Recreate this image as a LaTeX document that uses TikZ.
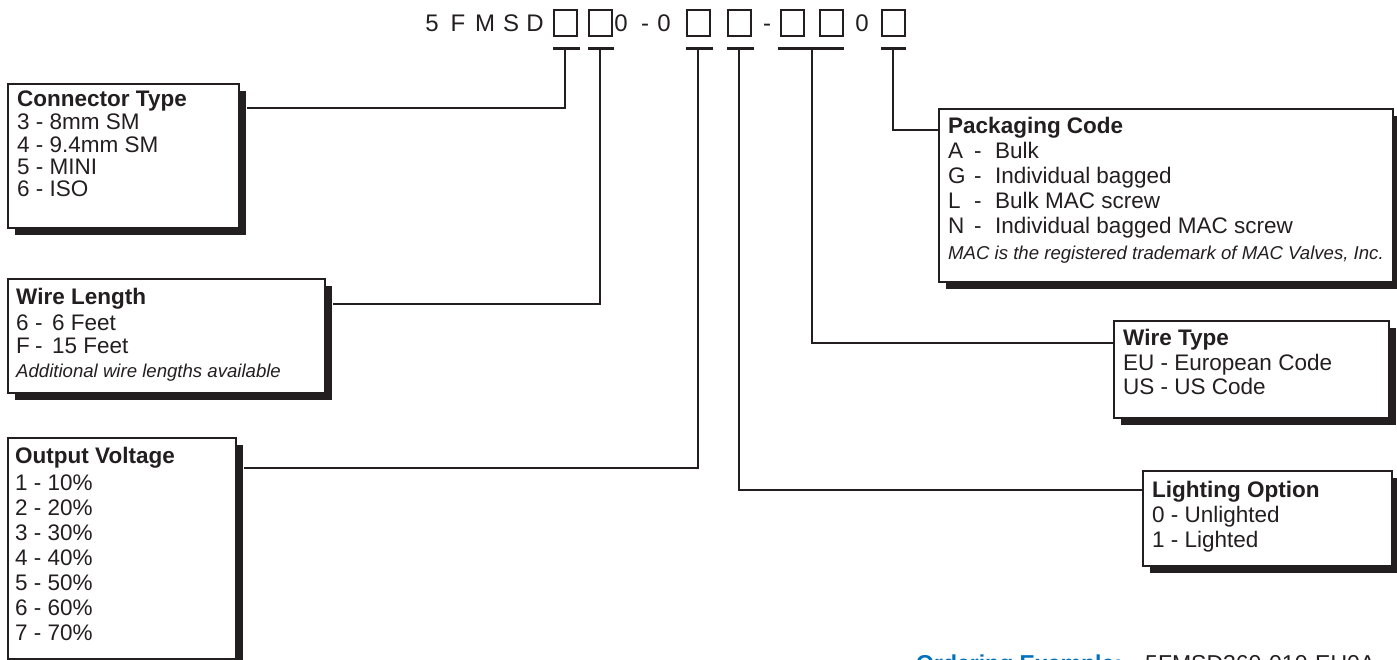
\documentclass[tikz,border=0pt]{standalone}
\usepackage{fontspec}
\setmainfont{Liberation Sans}
\usetikzlibrary{shadows}
\definecolor{ink}{RGB}{35,31,32}
\definecolor{oblue}{RGB}{0,114,188}
\begin{document}
\begin{tikzpicture}[x=1pt,y=-1pt,
  box/.style={draw=ink, line width=1.6pt, fill=white, anchor=north west, inner sep=0pt,
    drop shadow={fill=ink, opacity=1, shadow xshift=7pt, shadow yshift=-7pt}},
  slot/.style={draw=ink, line width=1.6pt, anchor=north west, inner sep=0pt, minimum width=23, minimum height=26},
  conn/.style={draw=ink, line width=2pt},
  tbar/.style={draw=ink, line width=2.6pt},
  ttl/.style={anchor=base west, inner sep=0pt, font=\fontsize{22.5}{24}\selectfont\bfseries, text=ink},
  txt/.style={anchor=base west, inner sep=0pt, font=\fontsize{22.5}{24}\selectfont, text=ink},
  note/.style={anchor=base west, inner sep=0pt, font=\fontsize{18.6}{20}\selectfont\itshape, text=ink},
  hdr/.style={anchor=base, inner sep=0pt, font=\fontsize{24}{26}\selectfont, text=ink}
]
\useasboundingbox (0,0) rectangle (1397,660);
\fill[white] (0,0) rectangle (1397,660);

% header characters
\foreach \c/\x [count=\i] in {5/432,F/458,M/485,S/511,D/535,0/621,-/645,0/664,-/767,0/862}
  \node[hdr] (h\i) at (\x,32) {\c};

% header slots
\node[slot] (b1) at (553,9) {};
\node[slot] (b2) at (588,9) {};
\node[slot] (b3) at (686,9) {};
\node[slot] (b4) at (727,9) {};
\node[slot] (b5) at (780,9) {};
\node[slot] (b6) at (819,9) {};
\node[slot] (b7) at (881,9) {};

% T-bar tops
\coordinate (t1) at ([yshift=-12pt]b1.south);
\coordinate (t2) at ([yshift=-12pt]b2.south);
\coordinate (t3) at ([yshift=-12pt]b3.south);
\coordinate (t4) at ([yshift=-12pt]b4.south);
\coordinate (t5) at (812,47);
\coordinate (t7) at ([yshift=-12pt]b7.south);
\draw[tbar] ([yshift=-12pt]b1.south west) -- ([yshift=-12pt,xshift=2pt]b1.south east);
\draw[tbar] ([yshift=-12pt]b2.south west) -- ([yshift=-12pt,xshift=1pt]b2.south east);
\draw[tbar] ([yshift=-12pt]b3.south west) -- ([yshift=-12pt,xshift=2pt]b3.south east);
\draw[tbar] ([yshift=-12pt]b4.south west) -- ([yshift=-12pt,xshift=2pt]b4.south east);
\draw[tbar] ([yshift=-12pt,xshift=-2pt]b5.south west) -- ([yshift=-12pt]b6.south east);
\draw[tbar] ([yshift=-12pt]b7.south west) -- ([yshift=-12pt]b7.south east);

% boxes
\node[box, minimum width=231, minimum height=144] (ct) at (7,83) {};
\node[box, minimum width=317, minimum height=114] (wl) at (7,278) {};
\node[box, minimum width=228, minimum height=221] (ov) at (7,437) {};
\node[box, minimum width=454, minimum height=173] (pc) at (938,108) {};
\node[box, minimum width=275, minimum height=97] (wt) at (1113,320) {};
\node[box, minimum width=249, minimum height=95] (lo) at (1142,470) {};

% connectors
\draw[conn] (t1) |- ([xshift=7pt,yshift=-25pt]ct.north east);
\draw[conn] (t2) |- ([xshift=7pt,yshift=-26pt]wl.north east);
\draw[conn] (t3) |- ([xshift=7pt,yshift=-31pt]ov.north east);
\draw[conn] (t4) |- ([yshift=-20pt]lo.north west);
\draw[conn] (t5) |- ([yshift=-23pt]wt.north west);
\draw[conn] (t7) |- ([yshift=-22pt]pc.north west);

% Connector Type
\node[ttl] (ct0) at (17,107) {Connector Type};
\node[txt] (ct1) at (17,130) {3 - 8mm SM};
\node[txt] (ct2) at (17,153) {4 - 9.4mm SM};
\node[txt] (ct3) at (17,175) {5 - MINI};
\node[txt] (ct4) at (17,197) {6 - ISO};

% Wire Length
\node[ttl] (wl0) at (16,305) {Wire Length};
\node[txt] (wl1) at (16,330) {\makebox[19pt][l]{6}\makebox[17pt][l]{-}6 Feet};
\node[txt] (wl2) at (16,353) {\makebox[19pt][l]{F}\makebox[17pt][l]{-}15 Feet};
\node[note] (wl3) at (16,377) {Additional wire lengths available};

% Output Voltage
\node[ttl] (ov0) at (15,463) {Output Voltage};
\foreach \n [count=\i] in {1,...,7}
  \node[txt] (ov\i) at (15,465+25*\i) {\n\ - \n0\%};

% Packaging Code
\node[ttl] (pc0) at (948,134) {Packaging Code};
\node[txt] (pc1) at (948,159) {\makebox[26pt][l]{A}\makebox[21pt][l]{-}Bulk};
\node[txt] (pc2) at (948,184) {\makebox[26pt][l]{G}\makebox[21pt][l]{-}Individual bagged};
\node[txt] (pc3) at (948,209) {\makebox[26pt][l]{L}\makebox[21pt][l]{-}Bulk MAC screw};
\node[txt] (pc4) at (948,234) {\makebox[26pt][l]{N}\makebox[21pt][l]{-}Individual bagged MAC screw};
\node[note] (pc5) at (948,260) {MAC is the registered trademark of MAC Valves, Inc.};

% Wire Type
\node[ttl] (wt0) at (1123,345) {Wire Type};
\node[txt] (wt1) at (1123,370) {EU - European Code};
\node[txt] (wt2) at (1123,394) {US - US Code};

% Lighting Option
\node[ttl] (lo0) at (1152,497) {Lighting Option};
\node[txt] (lo1) at (1152,522) {0 - Unlighted};
\node[txt] (lo2) at (1152,547) {1 - Lighted};

% Ordering example (cut off at bottom, as in the reference)
\node[anchor=base west, inner sep=0pt, font=\fontsize{23}{25}\selectfont\bfseries, text=oblue] (oe) at (916,671) {Ordering Example:};
\node[anchor=base west, inner sep=0pt, font=\fontsize{23}{25}\selectfont, text=ink] (oc) at (1145,671) {5FMSD360-010-EU0A};
\end{tikzpicture}
\end{document}
